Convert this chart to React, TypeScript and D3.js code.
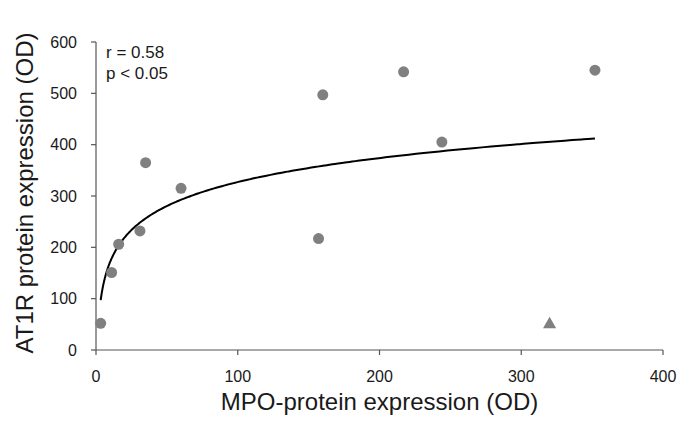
import React from "react";
import * as d3 from "d3";

const mpoCircles = [3.3, 11, 16, 31, 35, 60, 157, 160, 217, 244, 352];
const at1rCircles = [52, 151, 206, 232, 365, 315, 217, 497, 542, 405, 545];
const mpoTriangle = [320];
const at1rTriangle = [50];
const xTicks = [0, 100, 200, 300, 400];
const yTicks = [0, 100, 200, 300, 400, 500, 600];
const annotation = ["r = 0.58", "p < 0.05"];
const xTitle = "MPO-protein expression (OD)";
const yTitle = "AT1R protein expression (OD)";

const W = 685;
const H = 429;
const FONT = "'Liberation Sans', Arial, sans-serif";

export default function App() {
  const x = d3.scaleLinear().domain([0, 400]).range([96, 663]);
  const y = d3.scaleLinear().domain([0, 600]).range([350, 42]);

  // logarithmic least-squares fit over all points
  const allX = [...mpoCircles, ...mpoTriangle];
  const allY = [...at1rCircles, ...at1rTriangle];
  const lx = allX.map((v) => Math.log(v));
  const mx = d3.mean(lx) as number;
  const my = d3.mean(allY) as number;
  let sxy = 0;
  let sxx = 0;
  lx.forEach((v, i) => {
    sxy += (v - mx) * (allY[i] - my);
    sxx += (v - mx) * (v - mx);
  });
  const b = sxy / sxx;
  const a = my - b * mx;
  const [xmin, xmax] = d3.extent(allX) as [number, number];
  const fitX = d3.range(0, 201).map((i) => xmin * Math.pow(xmax / xmin, i / 200));
  const line = d3
    .line<number>()
    .x((v) => x(v))
    .y((v) => y(a + b * Math.log(v)))
    .curve(d3.curveMonotoneX);

  const tri = d3.symbol().type(d3.symbolTriangle).size(75)();
  const axisColor = "#555";
  const textColor = "#1a1a1a";
  const pointColor = "#808080";

  return (
    <div style={{ position: "absolute", left: 0, top: 0 }}>
      <svg width={W} height={H} style={{ display: "block", background: "#fff" }}>
        {/* axes */}
        <line x1={x(0)} x2={x(400)} y1={y(0)} y2={y(0)} stroke={axisColor} strokeWidth={1.2} />
        <line x1={x(0)} x2={x(0)} y1={y(0)} y2={y(600)} stroke={axisColor} strokeWidth={1.2} />
        {xTicks.map((t) => (
          <g key={"x" + t}>
            <line x1={x(t)} x2={x(t)} y1={y(0)} y2={y(0) + 5} stroke={axisColor} strokeWidth={1.2} />
            <text
              x={x(t)}
              y={382}
              textAnchor="middle"
              fontFamily={FONT}
              fontSize={16}
              fill={textColor}
            >
              {t}
            </text>
          </g>
        ))}
        {yTicks.map((t) => (
          <g key={"y" + t}>
            <line x1={x(0) - 5} x2={x(0)} y1={y(t)} y2={y(t)} stroke={axisColor} strokeWidth={1.2} />
            <text
              x={77}
              y={y(t)}
              dy="0.35em"
              textAnchor="end"
              fontFamily={FONT}
              fontSize={16}
              fill={textColor}
            >
              {t}
            </text>
          </g>
        ))}
        {/* titles */}
        <text
          x={(x(0) + x(400)) / 2}
          y={410}
          textAnchor="middle"
          fontFamily={FONT}
          fontSize={24}
          fill={textColor}
        >
          {xTitle}
        </text>
        <text
          transform={`translate(33, ${193}) rotate(-90)`}
          textAnchor="middle"
          fontFamily={FONT}
          fontSize={24}
          fill={textColor}
        >
          {yTitle}
        </text>
        {/* annotation */}
        {annotation.map((s, i) => (
          <text
            key={s}
            x={106}
            y={58 + i * 21}
            fontFamily={FONT}
            fontSize={17}
            fill={textColor}
          >
            {s}
          </text>
        ))}
        {/* fit */}
        <path d={line(fitX) || ""} fill="none" stroke="#000" strokeWidth={2} />
        {/* points */}
        {mpoCircles.map((v, i) => (
          <circle key={"c" + i} cx={x(v)} cy={y(at1rCircles[i])} r={5.5} fill={pointColor} />
        ))}
        {mpoTriangle.map((v, i) => (
          <path
            key={"t" + i}
            d={tri || ""}
            transform={`translate(${x(v)}, ${y(at1rTriangle[i])})`}
            fill={pointColor}
          />
        ))}
      </svg>
    </div>
  );
}
